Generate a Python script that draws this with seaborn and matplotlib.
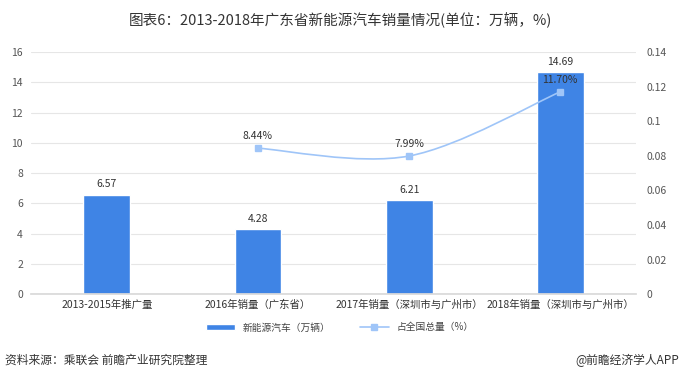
import numpy as np
import pandas as pd
import matplotlib
matplotlib.use("Agg")
import matplotlib.pyplot as plt
from matplotlib.path import Path
from matplotlib.patches import PathPatch, Patch
from matplotlib.lines import Line2D
import seaborn as sns

# data
categories = ["2013-2015年推广量", "2016年销量（广东省）", "2017年销量（深圳市与广州市）", "2018年销量（深圳市与广州市）"]
sales = [6.57, 4.28, 6.21, 14.69]          # 新能源汽车（万辆）
share_idx = [1, 2, 3]                      # categories that have a share value
share = [0.0844, 0.0799, 0.1170]           # 占全国总量（%）
share_labels = ["8.44%", "7.99%", "11.70%"]

bar_color = "#3f84e5"
line_color = "#9fc5f8"

sns.set_theme(style="white")
plt.rcParams["font.family"] = ["Noto Sans CJK SC", "DejaVu Sans"]

fig = plt.figure(figsize=(6.8, 3.83), dpi=100)
ax = fig.add_axes([0.046, 0.232, 0.889, 0.632])

df = pd.DataFrame({"cat": categories, "sales": sales})
sns.barplot(data=df, x="cat", y="sales", color=bar_color, width=0.31,
            saturation=1, ax=ax, zorder=2)
ax.set_xlim(-0.5, 3.5)
ax.set_ylim(0, 16)
ax.set_yticks(np.arange(0, 17, 2))
ax.yaxis.grid(True, color="#e6e6e6", lw=0.8, zorder=0)
ax.set_axisbelow(True)
ax.set_xlabel("")
ax.set_ylabel("")
for s in ax.spines.values():
    s.set_visible(False)
ax.spines["bottom"].set_visible(True)
ax.spines["bottom"].set_color("#d9d9d9")
ax.tick_params(axis="x", labelsize=7.5, colors="#333333", pad=4, length=0)
ax.tick_params(axis="y", labelsize=7.5, colors="#555555", pad=6, length=0)

for i, v in enumerate(sales):
    ax.text(i, v + 0.35, f"{v:.2f}", ha="center", va="bottom", fontsize=7.5, color="#333333")

ax2 = ax.twinx()
ax2.set_ylim(0, 0.14)
ax2.set_yticks(np.arange(0, 0.141, 0.02))
ax2.set_yticklabels(["0", "0.02", "0.04", "0.06", "0.08", "0.1", "0.12", "0.14"])
ax2.tick_params(axis="y", labelsize=7.5, colors="#555555", pad=8, length=0)
for s in ax2.spines.values():
    s.set_visible(False)
ax2.grid(False)

# smoothed line (catmull-rom style bezier through the data points)
xs = np.array(share_idx, dtype=float)
ys = np.array(share)
verts = [(xs[0], ys[0])]
codes = [Path.MOVETO]
for k in range(len(xs) - 1):
    p0 = (xs[max(k - 1, 0)], ys[max(k - 1, 0)])
    p1 = (xs[k], ys[k])
    p2 = (xs[k + 1], ys[k + 1])
    p3 = (xs[min(k + 2, len(xs) - 1)], ys[min(k + 2, len(xs) - 1)])
    c1 = (p1[0] + (p2[0] - p0[0]) / 6, p1[1] + (p2[1] - p0[1]) / 6)
    c2 = (p2[0] - (p3[0] - p1[0]) / 6, p2[1] - (p3[1] - p1[1]) / 6)
    verts += [c1, c2, p2]
    codes += [Path.CURVE4] * 3
ax2.add_patch(PathPatch(Path(verts, codes), fill=False, edgecolor=line_color, lw=1.2, zorder=3))
ax2.plot(xs, ys, ls="none", marker="s", ms=5, color=line_color, zorder=4)
for x, y, t in zip(xs, ys, share_labels):
    ax2.text(x, y + 0.004, t, ha="center", va="bottom", fontsize=7.5, color="#333333")

# legend
handles = [Patch(facecolor=bar_color, label="新能源汽车（万辆）"),
           Line2D([0], [0], color=line_color, marker="s", ms=4, lw=1.2, label="占全国总量（%）")]
fig.legend(handles=handles, loc="center", bbox_to_anchor=(0.5, 0.145), ncol=2, frameon=False,
           fontsize=7, handlelength=3, handleheight=0.5, columnspacing=3, labelcolor="#444444")

fig.text(0.5, 0.948, "图表6：2013-2018年广东省新能源汽车销量情况(单位：万辆，%)", ha="center", va="center",
         fontsize=10.5, color="#333333")
fig.text(0.008, 0.06, "资料来源：乘联会 前瞻产业研究院整理", ha="left", va="center", fontsize=8.5,
         color="#333333", style="italic")
fig.text(0.998, 0.06, "@前瞻经济学人APP", ha="right", va="center", fontsize=8.5, color="#333333")

fig.savefig("out.png", dpi=100)
